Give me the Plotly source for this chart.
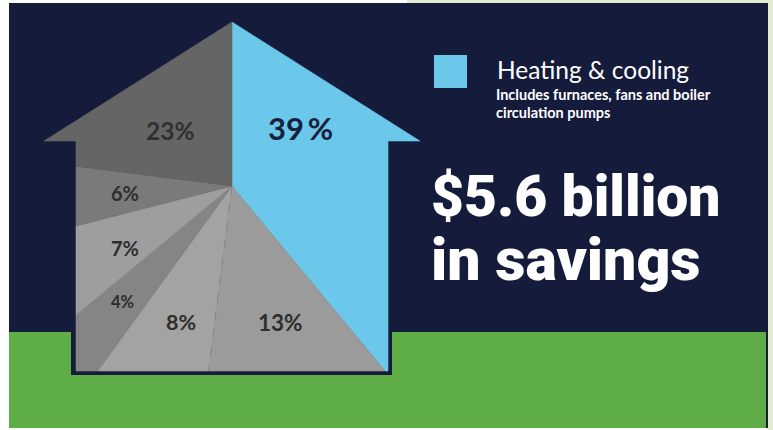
import math
import plotly.graph_objects as go

# ---------------- data ----------------
values = [39, 13, 8, 4, 7, 6, 23]           # percent shares, clockwise from top
labels = ["39\u2009%", "13%", "8%", "4%", "7%", "6%", "23%"]
highlight = "Heating & cooling"
subtitle_lines = ["Includes furnaces, fans and boiler", "circulation pumps"]
headline_lines = ["$5.6 billion", "in savings"]

# ---------------- style / layout ----------------
W, H = 773, 430
NAVY = "#151b3b"
GREEN = "#5fad46"
PALE = "#e3ecd3"
slice_colors = ["#6bc8ea", "#9b9b9b", "#a3a3a3", "#858585", "#9e9e9e", "#7a7a7a", "#656565"]
label_colors = ["#18203f", "#2e2e2e", "#2e2e2e", "#2e2e2e", "#2e2e2e", "#2e2e2e", "#303030"]
label_sizes = [31, 22.5, 21.5, 16.5, 20, 20, 24.5]
label_pos = [(300, 128), (280, 322), (181, 322), (122, 302), (125, 248), (125, 193), (170, 130)]
headline_sizes = [57, 59]

center = (232, 186)
house = [(232, 22), (420, 141), (388, 141), (388, 371), (76, 371), (76, 141), (44, 141)]


def ray_hit(theta_deg):
    th = math.radians(theta_deg)
    dx, dy = math.sin(th), -math.cos(th)
    cx, cy = center
    best = None
    n = len(house)
    for i in range(n):
        x1, y1 = house[i]
        x2, y2 = house[(i + 1) % n]
        ex, ey = x2 - x1, y2 - y1
        den = dx * ey - dy * ex
        if abs(den) < 1e-12:
            continue
        qx, qy = x1 - cx, y1 - cy
        t = (qx * ey - qy * ex) / den
        s = (qx * dy - qy * dx) / den
        if t > 1e-9 and -1e-9 <= s <= 1 + 1e-9:
            param = i + min(max(s, 0), 1)
            key = (round(t, 6), param)
            if best is None or key < best[0]:
                best = (key, param, (cx + t * dx, cy + t * dy))
    return best[1], best[2]


fig = go.Figure()
total = sum(values)
cum = 0
n = len(house)
boundaries = []
for k, v in enumerate(values):
    a0 = cum / total * 360
    cum += v
    a1 = cum / total * 360
    p0, pt0 = ray_hit(a0)
    if cum >= total:
        p1, pt1 = n, house[0]
    else:
        p1, pt1 = ray_hit(a1)
    boundaries.append(pt1)
    xs = [center[0], pt0[0]]
    ys = [center[1], pt0[1]]
    j = math.floor(p0) + 1
    while j < p1 - 1e-9:
        vx, vy = house[j % n]
        xs.append(vx)
        ys.append(vy)
        j += 1
    xs += [pt1[0], center[0]]
    ys += [pt1[1], center[1]]
    fig.add_trace(go.Scatter(
        x=xs, y=ys, mode="lines", fill="toself",
        fillcolor=slice_colors[k],
        line=dict(color=slice_colors[k], width=0.6),
        hoverinfo="skip", showlegend=False,
    ))

# faint dashed seam between 13% and 8% slices
bx, by = boundaries[1]
fig.add_trace(go.Scatter(
    x=[center[0], bx], y=[center[1], by], mode="lines",
    line=dict(color="#7d7d7d", width=0.8, dash="dash"),
    hoverinfo="skip", showlegend=False,
))

for k, lab in enumerate(labels):
    x, y = label_pos[k]
    fig.add_annotation(
        x=x, y=y, xref="x", yref="y", text=f"<b>{lab}</b>", showarrow=False,
        font=dict(family="Lato, Open Sans, sans-serif", size=label_sizes[k], color=label_colors[k]),
        xanchor="center", yanchor="middle",
    )

# legend-like text block
fig.add_annotation(x=494.5, y=69.5, xref="x", yref="y", text=highlight, showarrow=False,
                   font=dict(family="Lato, sans-serif", size=24.5, color="white"),
                   xanchor="left", yanchor="middle")
for i, line in enumerate(subtitle_lines):
    fig.add_annotation(x=495, y=94.5 + i * 17.5, xref="x", yref="y", text=f"<b>{line}</b>",
                       showarrow=False, borderpad=0,
                       font=dict(family="Lato, sans-serif", size=14.5, color="white"),
                       xanchor="left", yanchor="middle")
for i, line in enumerate(headline_lines):
    fig.add_annotation(x=429, y=196 + i * 63, xref="x", yref="y", text=line,
                       showarrow=False,
                       font=dict(family="Roboto, sans-serif", size=headline_sizes[i],
                                 weight=900, color="white"),
                       xanchor="left", yanchor="middle")

shapes = [
    dict(type="rect", x0=407, x1=W, y0=0, y1=3, fillcolor=PALE, line_width=0),
    dict(type="rect", x0=768, x1=W, y0=0, y1=H, fillcolor=PALE, line_width=0),
    dict(type="rect", x0=9, x1=768, y0=3, y1=428, fillcolor=NAVY, line_width=0),
    dict(type="rect", x0=9, x1=766, y0=332, y1=428, fillcolor=GREEN, line_width=0),
    dict(type="rect", x0=71, x1=392, y0=141, y1=375, fillcolor=NAVY, line_width=0),
    dict(type="rect", x0=434, x1=467, y0=55, y1=88, fillcolor=slice_colors[0], line_width=0, layer="above"),
]
for s in shapes:
    s.setdefault("layer", "below")
    s["xref"] = "x"
    s["yref"] = "y"

fig.update_layout(
    width=W, height=H,
    margin=dict(l=0, r=0, t=0, b=0),
    paper_bgcolor="white", plot_bgcolor="white",
    shapes=shapes,
    xaxis=dict(range=[0, W], visible=False, fixedrange=True),
    yaxis=dict(range=[H, 0], visible=False, fixedrange=True),
    showlegend=False,
)

fig.write_html(
    "out.html",
    config={"displayModeBar": False, "staticPlot": True},
    post_script=("document.body.style.margin='0';"
                 "document.body.style.overflow='hidden';"
                 "document.documentElement.style.overflow='hidden';"),
)
